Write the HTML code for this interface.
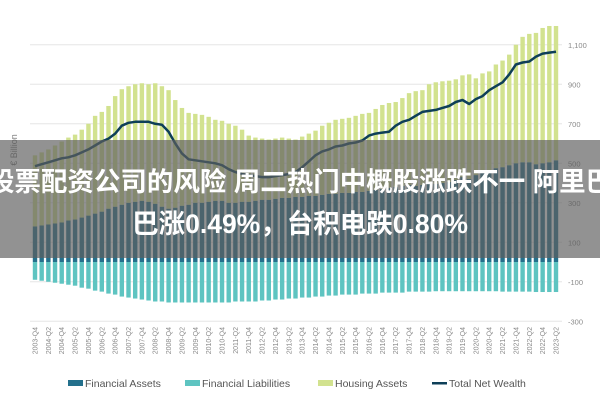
<!DOCTYPE html>
<html><head><meta charset="utf-8"><style>
html,body{margin:0;padding:0;background:#fff;width:600px;height:400px;overflow:hidden;font-family:"Liberation Sans","Noto Sans CJK SC",sans-serif}
#wrap{position:relative;width:600px;height:400px}
#banner{position:absolute;left:0;top:140px;width:600px;height:118px;background:rgba(95,95,95,0.68);overflow:hidden}
.bl{position:absolute;left:50%;transform:translateX(-50%);white-space:nowrap;color:#fff;font-weight:bold;font-size:26.5px;font-family:"Liberation Sans","Noto Sans CJK SC",sans-serif}
</style></head><body>
<div id="wrap">
<svg id="chart" width="600" height="400"></svg>
<div id="banner">
<div class="bl" style="top:20px">股票配资公司的风险 周二热门中概股涨跌不一 阿里巴</div>
<div class="bl" style="top:62px">巴涨0.49%，台积电跌0.80%</div>
</div>
</div>
<script>
const financialAssets=[180,185,190,195,200,210,215,225,235,245,255,270,280,290,300,305,310,305,295,280,270,275,285,290,300,300,305,310,310,300,300,305,305,310,315,315,320,325,325,330,330,335,335,340,345,345,350,350,355,355,360,365,370,375,380,385,390,385,390,395,395,400,405,415,430,420,440,455,465,475,480,490,500,505,505,495,500,505,515];
const financialLiabilities=[-90,-95,-100,-105,-110,-115,-120,-130,-135,-145,-150,-160,-165,-175,-180,-185,-190,-195,-200,-200,-205,-205,-205,-205,-205,-205,-205,-205,-205,-205,-200,-200,-200,-200,-195,-195,-190,-190,-185,-185,-180,-180,-175,-175,-170,-170,-165,-165,-165,-160,-160,-160,-155,-155,-155,-155,-150,-150,-150,-150,-148,-148,-148,-148,-148,-148,-148,-148,-148,-148,-150,-150,-150,-150,-150,-152,-152,-152,-152];
const housingAssets=[360,370,380,395,410,420,430,445,465,495,505,520,560,585,590,595,595,595,610,610,600,545,495,465,450,445,430,410,405,400,390,365,335,320,310,305,305,305,300,290,305,315,330,350,360,375,375,380,385,395,395,410,425,430,430,445,465,480,480,505,515,515,513,510,515,530,490,500,500,525,540,560,600,635,650,665,685,690,680];
const totalNetWealth=[485,495,505,515,525,530,540,555,570,590,610,625,650,690,705,710,710,710,700,695,660,600,550,520,515,510,505,500,490,470,455,445,440,435,430,430,435,440,445,455,480,510,540,560,570,585,590,600,605,615,640,650,655,660,690,710,720,740,760,765,770,780,790,810,820,800,825,840,870,890,910,950,1000,1010,1015,1040,1055,1060,1065];
const yTicks=[-300,-100,100,300,500,700,900,1100];
const yTickLabels=["-300","-100","100","300","500","700","900","1,100"];
const categories=[];
(function(){let y=2003,q=4;for(let i=0;i<79;i++){categories.push(y+"-Q"+q);q++;if(q>4){q=1;y++;}}})();

const NS="http://www.w3.org/2000/svg";
const svg=document.getElementById('chart');
const X0=35,X1=556,ZERO=262,K=0.1975;
const n=categories.length;
const step=(X1-X0)/(n-1);
function xs(i){return X0+i*step;}
function ys(v){return ZERO-v*K;}
function el(t,a){const e=document.createElementNS(NS,t);for(const k in a)e.setAttribute(k,a[k]);svg.appendChild(e);return e;}
yTicks.forEach((t,i)=>{
  const g=el('line',{x1:30,x2:562,y1:ys(t),y2:ys(t),stroke:'#e6e6e6','stroke-width':1});
  
  
  const tx=el('text',{x:568,y:ys(t)+3,'font-size':7.5,fill:'#8a8a8a','font-family':'Liberation Sans, sans-serif'});
  tx.textContent=yTickLabels[i];
  
  
});
const yt=el('text',{x:0,y:0,'font-size':9,fill:'#777',transform:'translate(17,150) rotate(-90)','text-anchor':'middle'});
yt.textContent='€ Billion';


const bw=4.4;
for(let i=0;i<n;i++){
  const x=xs(i)-bw/2;
  const fa=financialAssets[i],ha=housingAssets[i],fl=financialLiabilities[i];
  const b1=el('rect',{x:x,y:ys(fa),width:bw,height:ys(0)-ys(fa),fill:'#23708c'});
  
  
  const b2=el('rect',{x:x,y:ys(fa+ha),width:bw,height:ys(fa)-ys(fa+ha),fill:'#d2e28f'});
  
  
  const b3=el('rect',{x:x,y:ys(0),width:bw,height:ys(fl)-ys(0),fill:'#5ec4c1'});
  
  
}
let d='';
totalNetWealth.forEach((v,i)=>{d+=(i?'L':'M')+xs(i).toFixed(1)+','+ys(v).toFixed(1);});
const ln=el('path',{d:d,fill:'none',stroke:'#0e3f58','stroke-width':2.5,'stroke-linejoin':'round'});


for(let i=0;i<n;i+=2){
  const t=el('text',{x:0,y:0,'font-size':7,fill:'#8a8a8a','text-anchor':'end',transform:'translate('+(xs(i)+2.5)+',327) rotate(-90)'});
  t.textContent=categories[i];
  
  
}
const legend=[['Financial Assets','#23708c','rect',68],['Financial Liabilities','#5ec4c1','rect',185],['Housing Assets','#d2e28f','rect',318],['Total Net Wealth','#0e3f58','line',432]];
legend.forEach(l=>{
  let m;
  if(l[2]==='rect')m=el('rect',{x:l[3],y:380,width:15,height:6,fill:l[1]});
  else m=el('rect',{x:l[3],y:382,width:15,height:2.5,fill:l[1]});
  
  
  const t=el('text',{x:l[3]+17,y:387,'font-size':10.5,fill:'#555'});
  t.textContent=l[0];
  
  
});
</script>
</body></html>
